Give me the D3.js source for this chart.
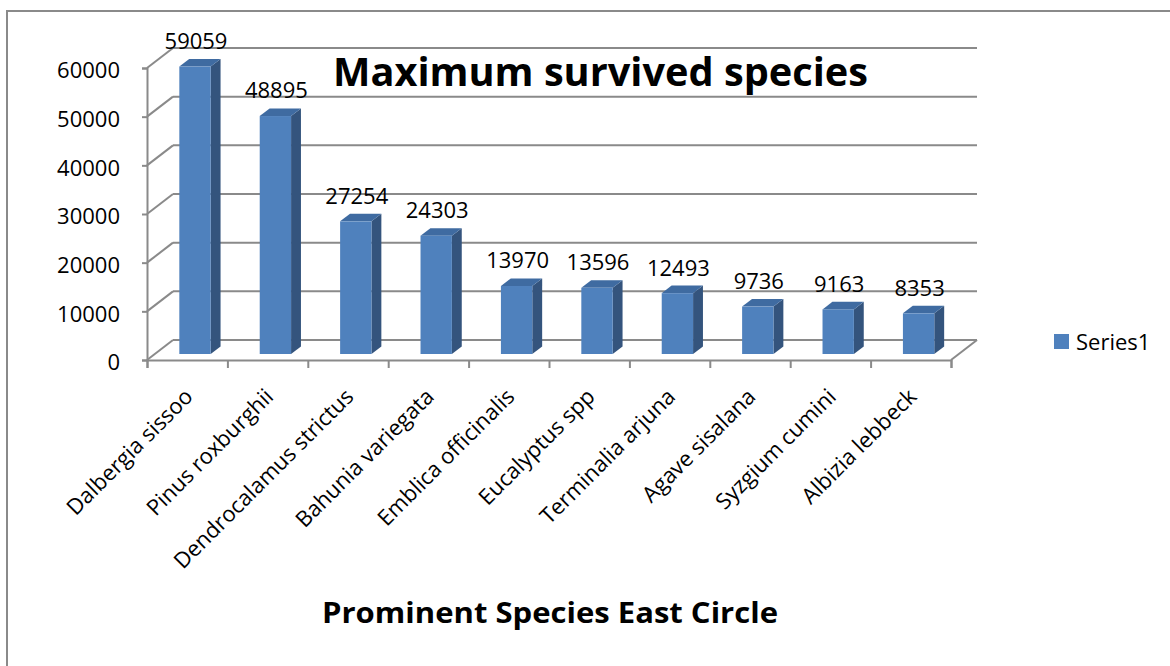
<!DOCTYPE html>
<html>
<head>
<meta charset="utf-8">
<script src="https://cdn.jsdelivr.net/npm/d3@7"></script>
<style>
  html, body { margin: 0; padding: 0; background: #fff; }
  svg { display: block; }
  text { font-family: "Open Sans", Lato, sans-serif; fill: #000; }
</style>
</head>
<body>
<svg id="chart" width="1170" height="666"></svg>
<script>
// Surviving plant counts by species
const categories = [
  "Dalbergia sissoo", "Pinus roxburghii", "Dendrocalamus strictus",
  "Bahunia variegata", "Emblica officinalis", "Eucalyptus spp",
  "Terminalia arjuna", "Agave sisalana", "Syzgium cumini", "Albizia lebbeck"
];
const values = [59059, 48895, 27254, 24303, 13970, 13596, 12493, 9736, 9163, 8353];
const yTicks = [0, 10000, 20000, 30000, 40000, 50000, 60000];
const seriesName = "Series1";
const chartTitle = "Maximum survived species";
const xTitle = "Prominent Species East Circle";

const svg = d3.select("#chart");
const font = "'Open Sans', Lato, sans-serif";

// Plot geometry: front floor edge, and the depth vector towards the back wall
const frontLeft = 147, frontRight = 951, frontBase = 360, plotH = 292;
const depthX = 26, depthY = -20;

const x = d3.scaleBand().domain(categories).range([frontLeft, frontRight]);
const edge = d3.scaleLinear().domain([0, categories.length]).range([frontLeft, frontRight]);
const h = d3.scaleLinear().domain([0, 60000]).range([0, plotH]);
const yFront = d3.scaleLinear().domain([0, 60000]).range([frontBase, frontBase - plotH]);
const depth = t => [depthX * t, depthY * t];

const grid = "#8a8a8a";

// Outer chart border
svg.append("rect")
  .attr("x", 7).attr("y", 11).attr("width", 1200).attr("height", 700)
  .attr("fill", "none").attr("stroke", grid).attr("stroke-width", 2);

// Back wall gridlines
const [bx, by] = depth(1);
svg.append("g").selectAll("line").data(yTicks).join("line")
  .attr("x1", frontLeft + bx).attr("x2", frontRight + bx)
  .attr("y1", d => yFront(d) + by).attr("y2", d => yFront(d) + by)
  .attr("stroke", grid).attr("stroke-width", 2);

// Side wall diagonals from the value axis to the back wall
svg.append("g").selectAll("line").data(yTicks).join("line")
  .attr("x1", frontLeft).attr("x2", frontLeft + bx)
  .attr("y1", d => yFront(d)).attr("y2", d => yFront(d) + by)
  .attr("stroke", grid).attr("stroke-width", 2);

// Floor right edge
svg.append("line")
  .attr("x1", frontRight).attr("y1", frontBase)
  .attr("x2", frontRight + bx).attr("y2", frontBase + by)
  .attr("stroke", grid).attr("stroke-width", 2);

// Value axis
const yAxis = svg.append("g")
  .attr("transform", `translate(${frontLeft},0)`)
  .call(d3.axisLeft(yFront).tickValues(yTicks).tickSize(5).tickPadding(22).tickFormat(d3.format("d")));
yAxis.select(".domain").attr("stroke", grid).attr("stroke-width", 2);
yAxis.selectAll(".tick line").attr("stroke", grid).attr("stroke-width", 2);
yAxis.selectAll(".tick text")
  .attr("font-size", 22).attr("font-family", font).attr("fill", "#000")
  .attr("dy", "0.45em");

// Category axis (ticks between categories)
const xAxis = svg.append("g")
  .attr("transform", `translate(0,${frontBase})`)
  .call(d3.axisBottom(edge).tickValues(d3.range(categories.length + 1)).tickSize(8).tickFormat(""));
xAxis.select(".domain").attr("stroke", grid).attr("stroke-width", 2);
xAxis.selectAll(".tick line").attr("stroke", grid).attr("stroke-width", 2);

// 3D columns
const barFrac = 0.39;
const [fx, fy] = depth(0.3);
const [dx, dy] = [depthX * 0.38, depthY * 0.38];
const bw = x.bandwidth() * barFrac;

const bars = svg.append("g").selectAll("g").data(values).join("g");
bars.each(function (v, i) {
  const g = d3.select(this);
  const cx = x(categories[i]) + x.bandwidth() / 2 + fx;
  const xl = cx - bw / 2, xr = cx + bw / 2;
  const yb = frontBase + fy, yt = yb - h(v);
  // side face
  g.append("polygon")
    .attr("points", [[xr, yt], [xr + dx, yt + dy], [xr + dx, yb + dy], [xr, yb]].join(" "))
    .attr("fill", "#34547D");
  // top face
  g.append("polygon")
    .attr("points", [[xl, yt], [xr, yt], [xr + dx, yt + dy], [xl + dx, yt + dy]].join(" "))
    .attr("fill", "#3F6BA1");
  // front face
  g.append("rect")
    .attr("x", xl).attr("y", yt).attr("width", bw).attr("height", h(v))
    .attr("fill", "#4F81BD");
  // value label
  g.append("text")
    .attr("x", cx + 1).attr("y", yt + dy - 10)
    .attr("text-anchor", "middle").attr("font-size", 22)
    .text(v);
});

// Rotated category labels
svg.append("g").selectAll("text").data(categories).join("text")
  .attr("transform", d => `translate(${x(d) + x.bandwidth() / 2 + 7},${frontBase + 38}) rotate(-45)`)
  .attr("text-anchor", "end").attr("font-size", 22)
  .text(d => d);

// Chart title
svg.append("text")
  .attr("x", 333).attr("y", 86)
  .attr("font-size", 40).attr("font-weight", "bold")
  .attr("textLength", 535).attr("lengthAdjust", "spacingAndGlyphs")
  .text(chartTitle);

// Category axis title
svg.append("text")
  .attr("x", 322).attr("y", 623)
  .attr("font-size", 29).attr("font-weight", "bold")
  .attr("textLength", 456).attr("lengthAdjust", "spacingAndGlyphs")
  .text(xTitle);

// Legend
const legend = svg.append("g").attr("transform", "translate(1054,334)");
legend.append("rect").attr("width", 15).attr("height", 15).attr("fill", "#4F81BD");
legend.append("text").attr("x", 22).attr("y", 16).attr("font-size", 22).text(seriesName);
</script>
</body>
</html>
